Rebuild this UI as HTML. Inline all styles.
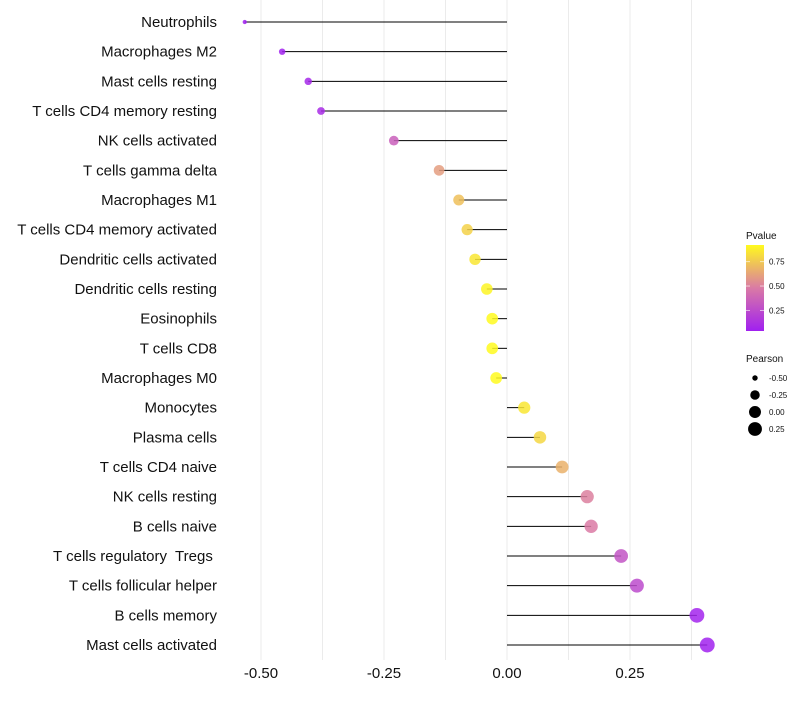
<!DOCTYPE html>
<html><head><meta charset="utf-8"><style>
body{margin:0;background:#fff;font-family:"Liberation Sans",sans-serif}
svg text{font-family:"Liberation Sans",sans-serif;white-space:pre}
</style></head><body>
<svg id="c" width="800" height="700"></svg>
<script>
const categories=["Neutrophils","Macrophages M2","Mast cells resting","T cells CD4 memory resting","NK cells activated","T cells gamma delta","Macrophages M1","T cells CD4 memory activated","Dendritic cells activated","Dendritic cells resting","Eosinophils","T cells CD8","Macrophages M0","Monocytes","Plasma cells","T cells CD4 naive","NK cells resting","B cells naive","T cells regulatory  Tregs ","T cells follicular helper","B cells memory","Mast cells activated"];
const pearson=[-0.533,-0.457,-0.404,-0.378,-0.230,-0.138,-0.098,-0.081,-0.065,-0.041,-0.030,-0.030,-0.022,0.035,0.067,0.112,0.163,0.171,0.232,0.264,0.386,0.407];
const pvalues=[0.03,0.05,0.08,0.1,0.35,0.6,0.72,0.78,0.85,0.9,0.95,0.95,0.97,0.85,0.8,0.67,0.5,0.48,0.3,0.25,0.06,0.05];
const xTicks=[-0.5,-0.25,0,0.25];
const xTickLabels=["-0.50","-0.25","0.00","0.25"];
const legendSizes=[-0.5,-0.25,0,0.25];
const legendSizeLabels=["-0.50","-0.25","0.00","0.25"];
const legendColorTicks=[0.25,0.5,0.75];

const NS="http://www.w3.org/2000/svg";
const svg=document.getElementById('c');
const x=v=>507+v*492;
const y=i=>22+i*(623/21);
const r=v=>1.3+6.3*Math.sqrt(Math.max(0,v+0.55));
function lerp(a,b,t){return a.map((c,k)=>Math.round(c+(b[k]-c)*t));}
function col(p){const t=Math.min(1,Math.max(0,(p-0.04)/0.88));
 const s=[[160,32,240],[218,122,165],[255,250,30]];
 const c=t<0.5?lerp(s[0],s[1],t*2):lerp(s[1],s[2],(t-0.5)*2);return `rgb(${c})`;}
function el(t,a,p){const e=document.createElementNS(NS,t);for(const k in a)e.setAttribute(k,a[k]);(p||svg).appendChild(e);return e;}

[-0.5,-0.375,-0.25,-0.125,0,0.125,0.25,0.375].forEach(v=>{
 const g=el('line',{x1:x(v),x2:x(v),y1:0,y2:660,stroke:'#ebebeb','stroke-width':1});
 
 
});
xTicks.forEach((v,i)=>{
 const t=el('text',{x:x(v),y:678,'text-anchor':'middle','font-size':15,fill:'#111'});
 t.textContent=xTickLabels[i];
 
 
});
categories.forEach((c,i)=>{
 const t=el('text',{x:217,y:y(i)+5,'text-anchor':'end','font-size':15,fill:'#111'});
 t.textContent=c;
 
 
 const l=el('line',{x1:x(0),x2:x(pearson[i]),y1:y(i),y2:y(i),stroke:'#000','stroke-width':1});
 
 
 const d=el('circle',{cx:x(pearson[i]),cy:y(i),r:r(pearson[i]),fill:col(pvalues[i]),'fill-opacity':0.85});
 
 
});
const lt=el('text',{x:746,y:239,'font-size':10,fill:'#111'});lt.textContent='Pvalue';


const defs=el('defs',{});const gr=el('linearGradient',{id:'pg',x1:0,y1:1,x2:0,y2:0},defs);
for(let k=0;k<=10;k++){el('stop',{offset:k/10,'stop-color':col(0.04+0.88*k/10)},gr);}
const cb=el('rect',{x:746,y:245,width:18,height:86,fill:'url(#pg)'});


const cy=p=>331-(p-0.04)/0.88*86;
legendColorTicks.forEach(p=>{
 el('line',{x1:746,x2:750,y1:cy(p),y2:cy(p),stroke:'#fff','stroke-opacity':0.6});
 el('line',{x1:760,x2:764,y1:cy(p),y2:cy(p),stroke:'#fff','stroke-opacity':0.6});
 const t=el('text',{x:769,y:cy(p)+3,'font-size':8,fill:'#111'});t.textContent=p.toFixed(2);
 
 
});
const st=el('text',{x:746,y:362,'font-size':10,fill:'#111'});st.textContent='Pearson';


legendSizes.forEach((v,i)=>{
 const yy=378+i*17;
 const c=el('circle',{cx:755,cy:yy,r:r(v),fill:'#000'});
 
 
 const t=el('text',{x:769,y:yy+3,'font-size':8,fill:'#111'});t.textContent=legendSizeLabels[i];
 
 
});
</script>
</body></html>
